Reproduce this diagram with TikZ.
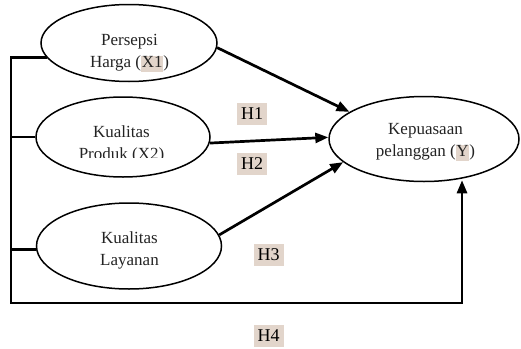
\documentclass[tikz,border=0pt]{standalone}
\usepackage{fontspec}
\setmainfont{Liberation Serif}
\usetikzlibrary{shapes.geometric,arrows.meta}
\definecolor{hl}{RGB}{226,213,203}
\definecolor{txt}{RGB}{35,35,35}
\newcommand\myhl[1]{{\setlength{\fboxsep}{0pt}\colorbox{hl}{\rule[-4.5pt]{0pt}{15pt}\kern0.7pt#1\kern0.7pt}}}
\begin{document}
\begin{tikzpicture}[x=1pt,y=-1pt,
  latent/.style={draw,ellipse,line width=1.5pt,inner sep=0pt},
  ltext/.style={anchor=base,align=center,inner sep=0pt,text=txt,font=\fontsize{17}{22}\selectfont},
  hyp/.style={fill=hl,inner xsep=4pt,inner ysep=4pt,text height=12pt,text depth=2pt,font=\fontsize{18}{20}\selectfont},
  conn/.style={line width=2.7pt,line join=miter},
  arr/.style={conn,-{Triangle[length=13pt,width=10pt]}}]
\useasboundingbox (0,0) rectangle (521,348);
% ellipses
\node[latent,minimum width=176pt,minimum height=77pt] (x1) at (129,43) {};
\node[latent,minimum width=174pt,minimum height=80pt] (x2) at (123,137) {};
\node[latent,minimum width=185pt,minimum height=86pt] (x3) at (129,246) {};
\node[latent,minimum width=190pt,minimum height=85pt] (y) at (424,139) {};
% texts (anchor = baseline of the last line)
\node[ltext] (t1) at (129.5,67) {Persepsi\\Harga (\myhl{X1})};
\begin{scope}
  \clip (0,0) rectangle (521,157);
  \node[ltext] (t2) at (121.5,159) {Kualitas\\Produk (X2)};
\end{scope}
\node[ltext] (t3) at (129.5,265) {Kualitas\\Layanan};
\node[ltext] (ty) at (425.5,156) {Kepuasaan\\pelanggan (\myhl{Y})};
% hypothesis labels
\node[hyp] (h1) at (252,114) {H1};
\node[hyp] (h2) at (252,164) {H2};
\node[hyp] (h3) at (268.5,255) {H3};
\node[hyp] (h4) at (268.5,336) {H4};
% bus
\coordinate (cL) at (11,303);
\coordinate (cR) at (462,303);
\draw[arr] (x1.190) -| (cL) -- (cR) -- ([yshift=2pt]cR |- y.south);
\draw[conn] (x2.west) -- (x2.west -| cL);
\draw[conn] (x3.182) -- (x3.182 -| cL);
% direct arrows
\draw[arr] (x1.-3) -- (y.160);
\draw[arr] (x2.-4) -- (y.179);
\draw[arr] (x3.7) -- (y.196);
\end{tikzpicture}
\end{document}
